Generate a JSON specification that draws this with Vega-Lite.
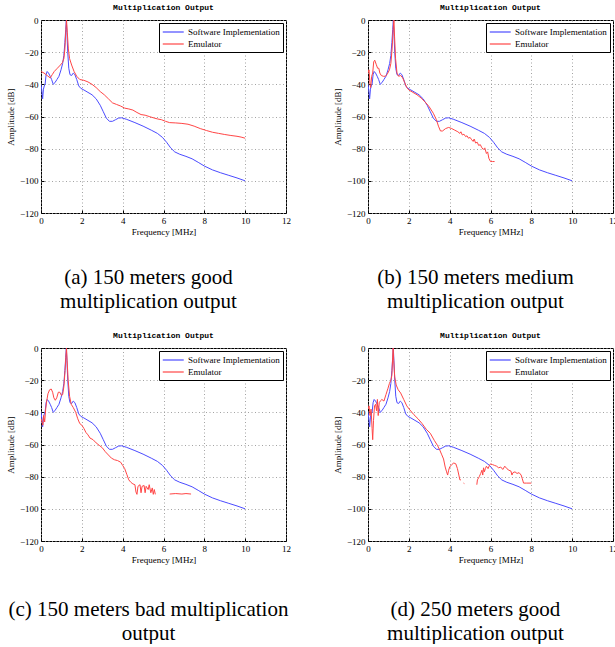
{
  "$schema": "https://vega.github.io/schema/vega-lite/v6.json",
  "padding": {"left": 5, "top": 3, "right": 0, "bottom": 0},
  "background": "white",
  "datasets": {
    "software": [
      {"series": "Software Implementation", "x": 0, "y": -40},
      {"series": "Software Implementation", "x": 0.04, "y": -44},
      {"series": "Software Implementation", "x": 0.08, "y": -49},
      {"series": "Software Implementation", "x": 0.12, "y": -43},
      {"series": "Software Implementation", "x": 0.16, "y": -41},
      {"series": "Software Implementation", "x": 0.2, "y": -40},
      {"series": "Software Implementation", "x": 0.25, "y": -34},
      {"series": "Software Implementation", "x": 0.3, "y": -32},
      {"series": "Software Implementation", "x": 0.37, "y": -33},
      {"series": "Software Implementation", "x": 0.45, "y": -35},
      {"series": "Software Implementation", "x": 0.52, "y": -37},
      {"series": "Software Implementation", "x": 0.6, "y": -40},
      {"series": "Software Implementation", "x": 0.68, "y": -39},
      {"series": "Software Implementation", "x": 0.78, "y": -37},
      {"series": "Software Implementation", "x": 0.88, "y": -35},
      {"series": "Software Implementation", "x": 0.98, "y": -31},
      {"series": "Software Implementation", "x": 1.06, "y": -27},
      {"series": "Software Implementation", "x": 1.12, "y": -22},
      {"series": "Software Implementation", "x": 1.17, "y": -14},
      {"series": "Software Implementation", "x": 1.21, "y": -6},
      {"series": "Software Implementation", "x": 1.24, "y": 0},
      {"series": "Software Implementation", "x": 1.27, "y": -8},
      {"series": "Software Implementation", "x": 1.31, "y": -20},
      {"series": "Software Implementation", "x": 1.36, "y": -30},
      {"series": "Software Implementation", "x": 1.42, "y": -34},
      {"series": "Software Implementation", "x": 1.5, "y": -34.5},
      {"series": "Software Implementation", "x": 1.58, "y": -33},
      {"series": "Software Implementation", "x": 1.66, "y": -34},
      {"series": "Software Implementation", "x": 1.75, "y": -37},
      {"series": "Software Implementation", "x": 1.85, "y": -41},
      {"series": "Software Implementation", "x": 1.95, "y": -42.5},
      {"series": "Software Implementation", "x": 2.1, "y": -43.5},
      {"series": "Software Implementation", "x": 2.3, "y": -45},
      {"series": "Software Implementation", "x": 2.5, "y": -46.5},
      {"series": "Software Implementation", "x": 2.7, "y": -49},
      {"series": "Software Implementation", "x": 2.9, "y": -53},
      {"series": "Software Implementation", "x": 3.05, "y": -57},
      {"series": "Software Implementation", "x": 3.2, "y": -61},
      {"series": "Software Implementation", "x": 3.35, "y": -63},
      {"series": "Software Implementation", "x": 3.5, "y": -63},
      {"series": "Software Implementation", "x": 3.65, "y": -62},
      {"series": "Software Implementation", "x": 3.8, "y": -61},
      {"series": "Software Implementation", "x": 3.95, "y": -60.8},
      {"series": "Software Implementation", "x": 4.2, "y": -61.8},
      {"series": "Software Implementation", "x": 4.6, "y": -63.8},
      {"series": "Software Implementation", "x": 5.0, "y": -66},
      {"series": "Software Implementation", "x": 5.4, "y": -68.5},
      {"series": "Software Implementation", "x": 5.7, "y": -70.5},
      {"series": "Software Implementation", "x": 5.95, "y": -73},
      {"series": "Software Implementation", "x": 6.15, "y": -76},
      {"series": "Software Implementation", "x": 6.35, "y": -79.5},
      {"series": "Software Implementation", "x": 6.55, "y": -82},
      {"series": "Software Implementation", "x": 6.8, "y": -83.5},
      {"series": "Software Implementation", "x": 7.1, "y": -84.8},
      {"series": "Software Implementation", "x": 7.4, "y": -86.3},
      {"series": "Software Implementation", "x": 7.7, "y": -88.5},
      {"series": "Software Implementation", "x": 8.0, "y": -90.8},
      {"series": "Software Implementation", "x": 8.4, "y": -93.2},
      {"series": "Software Implementation", "x": 8.8, "y": -95},
      {"series": "Software Implementation", "x": 9.2, "y": -96.6},
      {"series": "Software Implementation", "x": 9.6, "y": -98.2},
      {"series": "Software Implementation", "x": 10, "y": -100}
    ],
    "emulator": [
      {"panel": "a", "seg": 1, "series": "Emulator", "x": 0, "y": -32},
      {"panel": "a", "seg": 1, "series": "Emulator", "x": 0.15, "y": -33},
      {"panel": "a", "seg": 1, "series": "Emulator", "x": 0.3, "y": -34.5},
      {"panel": "a", "seg": 1, "series": "Emulator", "x": 0.45, "y": -36},
      {"panel": "a", "seg": 1, "series": "Emulator", "x": 0.55, "y": -34},
      {"panel": "a", "seg": 1, "series": "Emulator", "x": 0.65, "y": -32},
      {"panel": "a", "seg": 1, "series": "Emulator", "x": 0.8, "y": -30},
      {"panel": "a", "seg": 1, "series": "Emulator", "x": 0.95, "y": -28},
      {"panel": "a", "seg": 1, "series": "Emulator", "x": 1.05, "y": -26.5},
      {"panel": "a", "seg": 1, "series": "Emulator", "x": 1.12, "y": -24},
      {"panel": "a", "seg": 1, "series": "Emulator", "x": 1.17, "y": -18},
      {"panel": "a", "seg": 1, "series": "Emulator", "x": 1.21, "y": -8},
      {"panel": "a", "seg": 1, "series": "Emulator", "x": 1.25, "y": 0},
      {"panel": "a", "seg": 1, "series": "Emulator", "x": 1.29, "y": -8},
      {"panel": "a", "seg": 1, "series": "Emulator", "x": 1.34, "y": -18},
      {"panel": "a", "seg": 1, "series": "Emulator", "x": 1.4, "y": -24},
      {"panel": "a", "seg": 1, "series": "Emulator", "x": 1.5, "y": -28},
      {"panel": "a", "seg": 1, "series": "Emulator", "x": 1.62, "y": -32},
      {"panel": "a", "seg": 1, "series": "Emulator", "x": 1.75, "y": -35},
      {"panel": "a", "seg": 1, "series": "Emulator", "x": 1.9, "y": -37},
      {"panel": "a", "seg": 1, "series": "Emulator", "x": 2.1, "y": -37.5},
      {"panel": "a", "seg": 1, "series": "Emulator", "x": 2.3, "y": -38.5},
      {"panel": "a", "seg": 1, "series": "Emulator", "x": 2.5, "y": -40},
      {"panel": "a", "seg": 1, "series": "Emulator", "x": 2.7, "y": -42},
      {"panel": "a", "seg": 1, "series": "Emulator", "x": 2.9, "y": -44.5},
      {"panel": "a", "seg": 1, "series": "Emulator", "x": 3.1, "y": -46.5},
      {"panel": "a", "seg": 1, "series": "Emulator", "x": 3.3, "y": -49},
      {"panel": "a", "seg": 1, "series": "Emulator", "x": 3.5, "y": -51.5},
      {"panel": "a", "seg": 1, "series": "Emulator", "x": 3.7, "y": -52.5},
      {"panel": "a", "seg": 1, "series": "Emulator", "x": 3.9, "y": -53.5},
      {"panel": "a", "seg": 1, "series": "Emulator", "x": 4.1, "y": -54.8},
      {"panel": "a", "seg": 1, "series": "Emulator", "x": 4.3, "y": -55.3},
      {"panel": "a", "seg": 1, "series": "Emulator", "x": 4.5, "y": -56},
      {"panel": "a", "seg": 1, "series": "Emulator", "x": 4.7, "y": -57.5},
      {"panel": "a", "seg": 1, "series": "Emulator", "x": 4.9, "y": -58.8},
      {"panel": "a", "seg": 1, "series": "Emulator", "x": 5.1, "y": -59.2},
      {"panel": "a", "seg": 1, "series": "Emulator", "x": 5.3, "y": -60},
      {"panel": "a", "seg": 1, "series": "Emulator", "x": 5.5, "y": -60.8},
      {"panel": "a", "seg": 1, "series": "Emulator", "x": 5.7, "y": -61.5},
      {"panel": "a", "seg": 1, "series": "Emulator", "x": 5.9, "y": -62},
      {"panel": "a", "seg": 1, "series": "Emulator", "x": 6.1, "y": -63},
      {"panel": "a", "seg": 1, "series": "Emulator", "x": 6.3, "y": -63.8},
      {"panel": "a", "seg": 1, "series": "Emulator", "x": 6.6, "y": -64},
      {"panel": "a", "seg": 1, "series": "Emulator", "x": 6.9, "y": -64.3},
      {"panel": "a", "seg": 1, "series": "Emulator", "x": 7.2, "y": -64.8},
      {"panel": "a", "seg": 1, "series": "Emulator", "x": 7.5, "y": -66},
      {"panel": "a", "seg": 1, "series": "Emulator", "x": 7.8, "y": -67.5},
      {"panel": "a", "seg": 1, "series": "Emulator", "x": 8.1, "y": -68.7},
      {"panel": "a", "seg": 1, "series": "Emulator", "x": 8.4, "y": -69.8},
      {"panel": "a", "seg": 1, "series": "Emulator", "x": 8.7, "y": -70.5},
      {"panel": "a", "seg": 1, "series": "Emulator", "x": 9.0, "y": -71.2},
      {"panel": "a", "seg": 1, "series": "Emulator", "x": 9.3, "y": -71.8},
      {"panel": "a", "seg": 1, "series": "Emulator", "x": 9.6, "y": -72.3},
      {"panel": "a", "seg": 1, "series": "Emulator", "x": 9.8, "y": -72.8},
      {"panel": "a", "seg": 1, "series": "Emulator", "x": 10, "y": -73.5},

      {"panel": "b", "seg": 1, "series": "Emulator", "x": 0.0, "y": -33},
      {"panel": "b", "seg": 1, "series": "Emulator", "x": 0.05, "y": -31},
      {"panel": "b", "seg": 1, "series": "Emulator", "x": 0.1, "y": -40},
      {"panel": "b", "seg": 1, "series": "Emulator", "x": 0.13, "y": -42},
      {"panel": "b", "seg": 1, "series": "Emulator", "x": 0.18, "y": -35},
      {"panel": "b", "seg": 1, "series": "Emulator", "x": 0.23, "y": -33},
      {"panel": "b", "seg": 1, "series": "Emulator", "x": 0.28, "y": -26},
      {"panel": "b", "seg": 1, "series": "Emulator", "x": 0.33, "y": -25},
      {"panel": "b", "seg": 1, "series": "Emulator", "x": 0.4, "y": -27.5},
      {"panel": "b", "seg": 1, "series": "Emulator", "x": 0.47, "y": -30},
      {"panel": "b", "seg": 1, "series": "Emulator", "x": 0.53, "y": -30},
      {"panel": "b", "seg": 1, "series": "Emulator", "x": 0.58, "y": -33},
      {"panel": "b", "seg": 1, "series": "Emulator", "x": 0.65, "y": -34.5},
      {"panel": "b", "seg": 1, "series": "Emulator", "x": 0.75, "y": -35},
      {"panel": "b", "seg": 1, "series": "Emulator", "x": 0.85, "y": -35},
      {"panel": "b", "seg": 1, "series": "Emulator", "x": 0.95, "y": -33.5},
      {"panel": "b", "seg": 1, "series": "Emulator", "x": 1.05, "y": -31},
      {"panel": "b", "seg": 1, "series": "Emulator", "x": 1.12, "y": -27},
      {"panel": "b", "seg": 1, "series": "Emulator", "x": 1.18, "y": -18},
      {"panel": "b", "seg": 1, "series": "Emulator", "x": 1.23, "y": -6},
      {"panel": "b", "seg": 1, "series": "Emulator", "x": 1.27, "y": 0},
      {"panel": "b", "seg": 1, "series": "Emulator", "x": 1.3, "y": -10},
      {"panel": "b", "seg": 1, "series": "Emulator", "x": 1.35, "y": -24},
      {"panel": "b", "seg": 1, "series": "Emulator", "x": 1.42, "y": -33},
      {"panel": "b", "seg": 1, "series": "Emulator", "x": 1.5, "y": -35},
      {"panel": "b", "seg": 1, "series": "Emulator", "x": 1.6, "y": -34.5},
      {"panel": "b", "seg": 1, "series": "Emulator", "x": 1.7, "y": -36},
      {"panel": "b", "seg": 1, "series": "Emulator", "x": 1.8, "y": -39},
      {"panel": "b", "seg": 1, "series": "Emulator", "x": 1.9, "y": -42},
      {"panel": "b", "seg": 1, "series": "Emulator", "x": 2.0, "y": -43.5},
      {"panel": "b", "seg": 1, "series": "Emulator", "x": 2.2, "y": -45},
      {"panel": "b", "seg": 1, "series": "Emulator", "x": 2.4, "y": -46.5},
      {"panel": "b", "seg": 1, "series": "Emulator", "x": 2.6, "y": -48.5},
      {"panel": "b", "seg": 1, "series": "Emulator", "x": 2.8, "y": -51},
      {"panel": "b", "seg": 1, "series": "Emulator", "x": 3.0, "y": -54},
      {"panel": "b", "seg": 1, "series": "Emulator", "x": 3.2, "y": -58},
      {"panel": "b", "seg": 1, "series": "Emulator", "x": 3.35, "y": -62},
      {"panel": "b", "seg": 1, "series": "Emulator", "x": 3.45, "y": -66},
      {"panel": "b", "seg": 1, "series": "Emulator", "x": 3.55, "y": -69},
      {"panel": "b", "seg": 1, "series": "Emulator", "x": 3.65, "y": -69},
      {"panel": "b", "seg": 1, "series": "Emulator", "x": 3.8, "y": -67.5},
      {"panel": "b", "seg": 1, "series": "Emulator", "x": 3.95, "y": -66.8},
      {"panel": "b", "seg": 1, "series": "Emulator", "x": 4.1, "y": -67.5},
      {"panel": "b", "seg": 1, "series": "Emulator", "x": 4.25, "y": -68.5},
      {"panel": "b", "seg": 1, "series": "Emulator", "x": 4.4, "y": -69.5},
      {"panel": "b", "seg": 1, "series": "Emulator", "x": 4.5, "y": -70.5},
      {"panel": "b", "seg": 1, "series": "Emulator", "x": 4.55, "y": -69.5},
      {"panel": "b", "seg": 1, "series": "Emulator", "x": 4.62, "y": -71.5},
      {"panel": "b", "seg": 1, "series": "Emulator", "x": 4.7, "y": -71},
      {"panel": "b", "seg": 1, "series": "Emulator", "x": 4.78, "y": -72.5},
      {"panel": "b", "seg": 1, "series": "Emulator", "x": 4.85, "y": -72},
      {"panel": "b", "seg": 1, "series": "Emulator", "x": 4.92, "y": -73.5},
      {"panel": "b", "seg": 1, "series": "Emulator", "x": 5.0, "y": -73},
      {"panel": "b", "seg": 1, "series": "Emulator", "x": 5.08, "y": -74.5},
      {"panel": "b", "seg": 1, "series": "Emulator", "x": 5.15, "y": -75.5},
      {"panel": "b", "seg": 1, "series": "Emulator", "x": 5.2, "y": -74},
      {"panel": "b", "seg": 1, "series": "Emulator", "x": 5.27, "y": -76.5},
      {"panel": "b", "seg": 1, "series": "Emulator", "x": 5.35, "y": -76},
      {"panel": "b", "seg": 1, "series": "Emulator", "x": 5.42, "y": -78},
      {"panel": "b", "seg": 1, "series": "Emulator", "x": 5.5, "y": -77.5},
      {"panel": "b", "seg": 1, "series": "Emulator", "x": 5.58, "y": -79.5},
      {"panel": "b", "seg": 1, "series": "Emulator", "x": 5.65, "y": -80.5},
      {"panel": "b", "seg": 1, "series": "Emulator", "x": 5.72, "y": -79.5},
      {"panel": "b", "seg": 1, "series": "Emulator", "x": 5.8, "y": -83},
      {"panel": "b", "seg": 1, "series": "Emulator", "x": 5.86, "y": -82},
      {"panel": "b", "seg": 1, "series": "Emulator", "x": 5.92, "y": -86},
      {"panel": "b", "seg": 1, "series": "Emulator", "x": 6.0, "y": -88},
      {"panel": "b", "seg": 1, "series": "Emulator", "x": 6.1, "y": -88},
      {"panel": "b", "seg": 1, "series": "Emulator", "x": 6.2, "y": -88},

      {"panel": "c", "seg": 1, "series": "Emulator", "x": 0, "y": -44},
      {"panel": "c", "seg": 1, "series": "Emulator", "x": 0.05, "y": -46},
      {"panel": "c", "seg": 1, "series": "Emulator", "x": 0.09, "y": -48},
      {"panel": "c", "seg": 1, "series": "Emulator", "x": 0.13, "y": -42},
      {"panel": "c", "seg": 1, "series": "Emulator", "x": 0.18, "y": -46},
      {"panel": "c", "seg": 1, "series": "Emulator", "x": 0.23, "y": -38},
      {"panel": "c", "seg": 1, "series": "Emulator", "x": 0.28, "y": -33},
      {"panel": "c", "seg": 1, "series": "Emulator", "x": 0.34, "y": -28.5},
      {"panel": "c", "seg": 1, "series": "Emulator", "x": 0.42, "y": -26},
      {"panel": "c", "seg": 1, "series": "Emulator", "x": 0.5, "y": -25.5},
      {"panel": "c", "seg": 1, "series": "Emulator", "x": 0.57, "y": -27.5},
      {"panel": "c", "seg": 1, "series": "Emulator", "x": 0.63, "y": -31},
      {"panel": "c", "seg": 1, "series": "Emulator", "x": 0.7, "y": -32.5},
      {"panel": "c", "seg": 1, "series": "Emulator", "x": 0.77, "y": -31},
      {"panel": "c", "seg": 1, "series": "Emulator", "x": 0.85, "y": -27.5},
      {"panel": "c", "seg": 1, "series": "Emulator", "x": 0.92, "y": -27.5},
      {"panel": "c", "seg": 1, "series": "Emulator", "x": 1.0, "y": -29.5},
      {"panel": "c", "seg": 1, "series": "Emulator", "x": 1.06, "y": -29},
      {"panel": "c", "seg": 1, "series": "Emulator", "x": 1.12, "y": -24},
      {"panel": "c", "seg": 1, "series": "Emulator", "x": 1.18, "y": -14},
      {"panel": "c", "seg": 1, "series": "Emulator", "x": 1.22, "y": -5},
      {"panel": "c", "seg": 1, "series": "Emulator", "x": 1.25, "y": 0},
      {"panel": "c", "seg": 1, "series": "Emulator", "x": 1.28, "y": -8},
      {"panel": "c", "seg": 1, "series": "Emulator", "x": 1.33, "y": -20},
      {"panel": "c", "seg": 1, "series": "Emulator", "x": 1.4, "y": -30},
      {"panel": "c", "seg": 1, "series": "Emulator", "x": 1.48, "y": -35},
      {"panel": "c", "seg": 1, "series": "Emulator", "x": 1.58, "y": -37},
      {"panel": "c", "seg": 1, "series": "Emulator", "x": 1.7, "y": -40},
      {"panel": "c", "seg": 1, "series": "Emulator", "x": 1.8, "y": -44},
      {"panel": "c", "seg": 1, "series": "Emulator", "x": 1.9, "y": -47},
      {"panel": "c", "seg": 1, "series": "Emulator", "x": 2.0, "y": -48},
      {"panel": "c", "seg": 1, "series": "Emulator", "x": 2.1, "y": -50},
      {"panel": "c", "seg": 1, "series": "Emulator", "x": 2.2, "y": -52.5},
      {"panel": "c", "seg": 1, "series": "Emulator", "x": 2.3, "y": -54},
      {"panel": "c", "seg": 1, "series": "Emulator", "x": 2.4, "y": -56},
      {"panel": "c", "seg": 1, "series": "Emulator", "x": 2.55, "y": -57},
      {"panel": "c", "seg": 1, "series": "Emulator", "x": 2.7, "y": -59},
      {"panel": "c", "seg": 1, "series": "Emulator", "x": 2.85, "y": -60.5},
      {"panel": "c", "seg": 1, "series": "Emulator", "x": 3.0, "y": -62},
      {"panel": "c", "seg": 1, "series": "Emulator", "x": 3.15, "y": -64.5},
      {"panel": "c", "seg": 1, "series": "Emulator", "x": 3.3, "y": -66.5},
      {"panel": "c", "seg": 1, "series": "Emulator", "x": 3.45, "y": -68.5},
      {"panel": "c", "seg": 1, "series": "Emulator", "x": 3.6, "y": -69.5},
      {"panel": "c", "seg": 1, "series": "Emulator", "x": 3.75, "y": -70},
      {"panel": "c", "seg": 1, "series": "Emulator", "x": 3.9, "y": -71},
      {"panel": "c", "seg": 1, "series": "Emulator", "x": 4.0, "y": -73},
      {"panel": "c", "seg": 1, "series": "Emulator", "x": 4.1, "y": -75},
      {"panel": "c", "seg": 1, "series": "Emulator", "x": 4.2, "y": -78.5},
      {"panel": "c", "seg": 1, "series": "Emulator", "x": 4.3, "y": -82},
      {"panel": "c", "seg": 1, "series": "Emulator", "x": 4.4, "y": -83.5},
      {"panel": "c", "seg": 1, "series": "Emulator", "x": 4.5, "y": -84.5},
      {"panel": "c", "seg": 1, "series": "Emulator", "x": 4.6, "y": -85},
      {"panel": "c", "seg": 1, "series": "Emulator", "x": 4.65, "y": -89.5},
      {"panel": "c", "seg": 1, "series": "Emulator", "x": 4.7, "y": -91},
      {"panel": "c", "seg": 1, "series": "Emulator", "x": 4.75, "y": -86},
      {"panel": "c", "seg": 1, "series": "Emulator", "x": 4.85, "y": -85},
      {"panel": "c", "seg": 1, "series": "Emulator", "x": 4.9, "y": -90},
      {"panel": "c", "seg": 1, "series": "Emulator", "x": 4.95, "y": -86},
      {"panel": "c", "seg": 1, "series": "Emulator", "x": 5.05, "y": -85.5},
      {"panel": "c", "seg": 1, "series": "Emulator", "x": 5.1, "y": -90},
      {"panel": "c", "seg": 1, "series": "Emulator", "x": 5.15, "y": -86},
      {"panel": "c", "seg": 1, "series": "Emulator", "x": 5.25, "y": -88},
      {"panel": "c", "seg": 1, "series": "Emulator", "x": 5.3, "y": -85},
      {"panel": "c", "seg": 1, "series": "Emulator", "x": 5.38, "y": -90},
      {"panel": "c", "seg": 1, "series": "Emulator", "x": 5.45, "y": -87},
      {"panel": "c", "seg": 1, "series": "Emulator", "x": 5.5, "y": -91},
      {"panel": "c", "seg": 1, "series": "Emulator", "x": 5.55, "y": -88},
      {"panel": "c", "seg": 1, "series": "Emulator", "x": 5.6, "y": -91},
      {"panel": "c", "seg": 2, "series": "Emulator", "x": 6.3, "y": -90.8},
      {"panel": "c", "seg": 2, "series": "Emulator", "x": 6.6, "y": -90.5},
      {"panel": "c", "seg": 2, "series": "Emulator", "x": 6.9, "y": -90.8},
      {"panel": "c", "seg": 2, "series": "Emulator", "x": 7.1, "y": -90.5},
      {"panel": "c", "seg": 2, "series": "Emulator", "x": 7.35, "y": -90.8},

      {"panel": "d", "seg": 1, "series": "Emulator", "x": 0, "y": -38},
      {"panel": "d", "seg": 1, "series": "Emulator", "x": 0.05, "y": -36},
      {"panel": "d", "seg": 1, "series": "Emulator", "x": 0.1, "y": -42},
      {"panel": "d", "seg": 1, "series": "Emulator", "x": 0.15, "y": -38},
      {"panel": "d", "seg": 1, "series": "Emulator", "x": 0.2, "y": -50},
      {"panel": "d", "seg": 1, "series": "Emulator", "x": 0.23, "y": -57},
      {"panel": "d", "seg": 1, "series": "Emulator", "x": 0.27, "y": -45},
      {"panel": "d", "seg": 1, "series": "Emulator", "x": 0.32, "y": -36},
      {"panel": "d", "seg": 1, "series": "Emulator", "x": 0.37, "y": -35},
      {"panel": "d", "seg": 1, "series": "Emulator", "x": 0.42, "y": -39},
      {"panel": "d", "seg": 1, "series": "Emulator", "x": 0.46, "y": -32},
      {"panel": "d", "seg": 1, "series": "Emulator", "x": 0.5, "y": -42},
      {"panel": "d", "seg": 1, "series": "Emulator", "x": 0.55, "y": -34},
      {"panel": "d", "seg": 1, "series": "Emulator", "x": 0.6, "y": -33},
      {"panel": "d", "seg": 1, "series": "Emulator", "x": 0.68, "y": -32},
      {"panel": "d", "seg": 1, "series": "Emulator", "x": 0.78, "y": -33},
      {"panel": "d", "seg": 1, "series": "Emulator", "x": 0.88, "y": -29},
      {"panel": "d", "seg": 1, "series": "Emulator", "x": 0.98, "y": -25},
      {"panel": "d", "seg": 1, "series": "Emulator", "x": 1.05, "y": -22},
      {"panel": "d", "seg": 1, "series": "Emulator", "x": 1.12, "y": -20},
      {"panel": "d", "seg": 1, "series": "Emulator", "x": 1.17, "y": -17},
      {"panel": "d", "seg": 1, "series": "Emulator", "x": 1.2, "y": -8},
      {"panel": "d", "seg": 1, "series": "Emulator", "x": 1.23, "y": 0},
      {"panel": "d", "seg": 1, "series": "Emulator", "x": 1.26, "y": -8},
      {"panel": "d", "seg": 1, "series": "Emulator", "x": 1.31, "y": -18},
      {"panel": "d", "seg": 1, "series": "Emulator", "x": 1.38, "y": -23},
      {"panel": "d", "seg": 1, "series": "Emulator", "x": 1.48, "y": -26},
      {"panel": "d", "seg": 1, "series": "Emulator", "x": 1.6, "y": -28},
      {"panel": "d", "seg": 1, "series": "Emulator", "x": 1.75, "y": -32},
      {"panel": "d", "seg": 1, "series": "Emulator", "x": 1.9, "y": -36},
      {"panel": "d", "seg": 1, "series": "Emulator", "x": 2.05, "y": -38.5},
      {"panel": "d", "seg": 1, "series": "Emulator", "x": 2.25, "y": -41.5},
      {"panel": "d", "seg": 1, "series": "Emulator", "x": 2.45, "y": -44},
      {"panel": "d", "seg": 1, "series": "Emulator", "x": 2.65, "y": -47},
      {"panel": "d", "seg": 1, "series": "Emulator", "x": 2.85, "y": -50.5},
      {"panel": "d", "seg": 1, "series": "Emulator", "x": 3.05, "y": -53},
      {"panel": "d", "seg": 1, "series": "Emulator", "x": 3.25, "y": -57.5},
      {"panel": "d", "seg": 1, "series": "Emulator", "x": 3.4, "y": -60.5},
      {"panel": "d", "seg": 1, "series": "Emulator", "x": 3.5, "y": -63},
      {"panel": "d", "seg": 1, "series": "Emulator", "x": 3.6, "y": -66},
      {"panel": "d", "seg": 1, "series": "Emulator", "x": 3.7, "y": -69},
      {"panel": "d", "seg": 1, "series": "Emulator", "x": 3.78, "y": -74},
      {"panel": "d", "seg": 1, "series": "Emulator", "x": 3.85, "y": -77},
      {"panel": "d", "seg": 1, "series": "Emulator", "x": 3.9, "y": -79},
      {"panel": "d", "seg": 1, "series": "Emulator", "x": 3.95, "y": -76},
      {"panel": "d", "seg": 1, "series": "Emulator", "x": 4.0, "y": -74},
      {"panel": "d", "seg": 1, "series": "Emulator", "x": 4.1, "y": -72.5},
      {"panel": "d", "seg": 1, "series": "Emulator", "x": 4.2, "y": -71.5},
      {"panel": "d", "seg": 1, "series": "Emulator", "x": 4.3, "y": -72},
      {"panel": "d", "seg": 1, "series": "Emulator", "x": 4.38, "y": -75},
      {"panel": "d", "seg": 1, "series": "Emulator", "x": 4.45, "y": -79},
      {"panel": "d", "seg": 1, "series": "Emulator", "x": 4.5, "y": -82},
      {"panel": "d", "seg": 1, "series": "Emulator", "x": 4.55, "y": -82},
      {"panel": "d", "seg": 2, "series": "Emulator", "x": 4.68, "y": -84},
      {"panel": "d", "seg": 2, "series": "Emulator", "x": 4.72, "y": -84.3},
      {"panel": "d", "seg": 3, "series": "Emulator", "x": 5.33, "y": -85},
      {"panel": "d", "seg": 3, "series": "Emulator", "x": 5.36, "y": -82},
      {"panel": "d", "seg": 3, "series": "Emulator", "x": 5.45, "y": -80},
      {"panel": "d", "seg": 3, "series": "Emulator", "x": 5.52, "y": -78},
      {"panel": "d", "seg": 3, "series": "Emulator", "x": 5.58, "y": -76},
      {"panel": "d", "seg": 3, "series": "Emulator", "x": 5.62, "y": -79},
      {"panel": "d", "seg": 3, "series": "Emulator", "x": 5.66, "y": -74.5},
      {"panel": "d", "seg": 3, "series": "Emulator", "x": 5.7, "y": -77},
      {"panel": "d", "seg": 3, "series": "Emulator", "x": 5.75, "y": -75},
      {"panel": "d", "seg": 3, "series": "Emulator", "x": 5.8, "y": -73.5},
      {"panel": "d", "seg": 3, "series": "Emulator", "x": 5.88, "y": -75},
      {"panel": "d", "seg": 3, "series": "Emulator", "x": 5.95, "y": -73},
      {"panel": "d", "seg": 3, "series": "Emulator", "x": 6.0, "y": -72},
      {"panel": "d", "seg": 3, "series": "Emulator", "x": 6.1, "y": -72.5},
      {"panel": "d", "seg": 3, "series": "Emulator", "x": 6.2, "y": -73},
      {"panel": "d", "seg": 3, "series": "Emulator", "x": 6.3, "y": -73.5},
      {"panel": "d", "seg": 3, "series": "Emulator", "x": 6.4, "y": -74.5},
      {"panel": "d", "seg": 3, "series": "Emulator", "x": 6.5, "y": -74},
      {"panel": "d", "seg": 3, "series": "Emulator", "x": 6.6, "y": -75.5},
      {"panel": "d", "seg": 3, "series": "Emulator", "x": 6.7, "y": -73.5},
      {"panel": "d", "seg": 3, "series": "Emulator", "x": 6.8, "y": -75},
      {"panel": "d", "seg": 3, "series": "Emulator", "x": 6.9, "y": -76},
      {"panel": "d", "seg": 3, "series": "Emulator", "x": 7.0, "y": -76.5},
      {"panel": "d", "seg": 3, "series": "Emulator", "x": 7.05, "y": -79},
      {"panel": "d", "seg": 3, "series": "Emulator", "x": 7.1, "y": -77.5},
      {"panel": "d", "seg": 3, "series": "Emulator", "x": 7.2, "y": -77},
      {"panel": "d", "seg": 3, "series": "Emulator", "x": 7.3, "y": -78},
      {"panel": "d", "seg": 3, "series": "Emulator", "x": 7.4, "y": -77.5},
      {"panel": "d", "seg": 3, "series": "Emulator", "x": 7.5, "y": -79},
      {"panel": "d", "seg": 3, "series": "Emulator", "x": 7.55, "y": -81},
      {"panel": "d", "seg": 3, "series": "Emulator", "x": 7.62, "y": -84},
      {"panel": "d", "seg": 3, "series": "Emulator", "x": 7.75, "y": -84},
      {"panel": "d", "seg": 3, "series": "Emulator", "x": 8.0, "y": -84}
    ]
  },
  "columns": 2,
  "spacing": {"column": 41, "row": 19},
  "resolve": {"scale": {"color": "independent", "x": "independent", "y": "independent"}, "legend": {"color": "independent"}},
  "concat": [
    {
      "title": {"text": ["(a) 150 meters good", "multiplication output"], "orient": "bottom", "font": "Liberation Serif", "fontSize": 21, "fontWeight": "normal", "lineHeight": 24, "offset": 30, "frame": "bounds", "anchor": "middle"},
      "resolve": {"scale": {"color": "independent"}, "legend": {"color": "independent"}},
      "vconcat": [
        {
          "width": 245, "height": 193,
          "title": "Multiplication Output",
          "encoding": {
            "x": {"field": "x", "type": "quantitative", "scale": {"domain": [0, 12], "nice": false}, "axis": {"title": "Frequency [MHz]", "values": [0, 2, 4, 6, 8, 10, 12]}},
            "y": {"field": "y", "type": "quantitative", "scale": {"domain": [-120, 0], "nice": false}, "axis": {"title": "Amplitude [dB]", "values": [-120, -100, -80, -60, -40, -20, 0]}},
            "color": {"field": "series", "type": "nominal", "scale": {"domain": ["Software Implementation", "Emulator"], "range": ["#4b4bff", "#ff4545"]}, "legend": {"title": null}}
          },
          "layer": [
            {"data": {"name": "software"}, "mark": {"type": "line", "strokeWidth": 1, "clip": true}},
            {"data": {"name": "emulator"}, "transform": [{"filter": "datum.panel === 'a'"}], "mark": {"type": "line", "strokeWidth": 1, "clip": true}, "encoding": {"detail": {"field": "seg", "type": "nominal"}}}
          ]
        }
      ]
    },
    {
      "title": {"text": ["(b) 150 meters medium", "multiplication output"], "orient": "bottom", "font": "Liberation Serif", "fontSize": 21, "fontWeight": "normal", "lineHeight": 24, "offset": 30, "frame": "bounds", "anchor": "middle"},
      "resolve": {"scale": {"color": "independent"}, "legend": {"color": "independent"}},
      "vconcat": [
        {
          "width": 245, "height": 193,
          "title": "Multiplication Output",
          "encoding": {
            "x": {"field": "x", "type": "quantitative", "scale": {"domain": [0, 12], "nice": false}, "axis": {"title": "Frequency [MHz]", "values": [0, 2, 4, 6, 8, 10, 12]}},
            "y": {"field": "y", "type": "quantitative", "scale": {"domain": [-120, 0], "nice": false}, "axis": {"title": "Amplitude [dB]", "values": [-120, -100, -80, -60, -40, -20, 0]}},
            "color": {"field": "series", "type": "nominal", "scale": {"domain": ["Software Implementation", "Emulator"], "range": ["#4b4bff", "#ff4545"]}, "legend": {"title": null}}
          },
          "layer": [
            {"data": {"name": "software"}, "mark": {"type": "line", "strokeWidth": 1, "clip": true}},
            {"data": {"name": "emulator"}, "transform": [{"filter": "datum.panel === 'b'"}], "mark": {"type": "line", "strokeWidth": 1, "clip": true}, "encoding": {"detail": {"field": "seg", "type": "nominal"}}}
          ]
        }
      ]
    },
    {
      "title": {"text": ["(c) 150 meters bad multiplication", "output"], "orient": "bottom", "font": "Liberation Serif", "fontSize": 21, "fontWeight": "normal", "lineHeight": 24, "offset": 34, "frame": "bounds", "anchor": "middle"},
      "resolve": {"scale": {"color": "independent"}, "legend": {"color": "independent"}},
      "vconcat": [
        {
          "width": 245, "height": 193,
          "title": "Multiplication Output",
          "encoding": {
            "x": {"field": "x", "type": "quantitative", "scale": {"domain": [0, 12], "nice": false}, "axis": {"title": "Frequency [MHz]", "values": [0, 2, 4, 6, 8, 10, 12]}},
            "y": {"field": "y", "type": "quantitative", "scale": {"domain": [-120, 0], "nice": false}, "axis": {"title": "Amplitude [dB]", "values": [-120, -100, -80, -60, -40, -20, 0]}},
            "color": {"field": "series", "type": "nominal", "scale": {"domain": ["Software Implementation", "Emulator"], "range": ["#4b4bff", "#ff4545"]}, "legend": {"title": null}}
          },
          "layer": [
            {"data": {"name": "software"}, "mark": {"type": "line", "strokeWidth": 1, "clip": true}},
            {"data": {"name": "emulator"}, "transform": [{"filter": "datum.panel === 'c'"}], "mark": {"type": "line", "strokeWidth": 1, "clip": true}, "encoding": {"detail": {"field": "seg", "type": "nominal"}}}
          ]
        }
      ]
    },
    {
      "title": {"text": ["(d) 250 meters good", "multiplication output"], "orient": "bottom", "font": "Liberation Serif", "fontSize": 21, "fontWeight": "normal", "lineHeight": 24, "offset": 34, "frame": "bounds", "anchor": "middle"},
      "resolve": {"scale": {"color": "independent"}, "legend": {"color": "independent"}},
      "vconcat": [
        {
          "width": 245, "height": 193,
          "title": "Multiplication Output",
          "encoding": {
            "x": {"field": "x", "type": "quantitative", "scale": {"domain": [0, 12], "nice": false}, "axis": {"title": "Frequency [MHz]", "values": [0, 2, 4, 6, 8, 10, 12]}},
            "y": {"field": "y", "type": "quantitative", "scale": {"domain": [-120, 0], "nice": false}, "axis": {"title": "Amplitude [dB]", "values": [-120, -100, -80, -60, -40, -20, 0]}},
            "color": {"field": "series", "type": "nominal", "scale": {"domain": ["Software Implementation", "Emulator"], "range": ["#4b4bff", "#ff4545"]}, "legend": {"title": null}}
          },
          "layer": [
            {"data": {"name": "software"}, "mark": {"type": "line", "strokeWidth": 1, "clip": true}},
            {"data": {"name": "emulator"}, "transform": [{"filter": "datum.panel === 'd'"}], "mark": {"type": "line", "strokeWidth": 1, "clip": true}, "encoding": {"detail": {"field": "seg", "type": "nominal"}}}
          ]
        }
      ]
    }
  ],
  "config": {
    "view": {"stroke": "black", "strokeWidth": 1},
    "axis": {
      "labelFont": "Liberation Serif", "labelFontSize": 9, "labelColor": "black", "labelPadding": 6,
      "titleFont": "Liberation Serif", "titleFontSize": 9, "titleFontWeight": "normal", "titleColor": "black",
      "grid": true, "gridColor": "#999999", "gridDash": [1, 2.5], "gridOpacity": 0.9,
      "domain": false, "ticks": true, "tickColor": "black", "tickSize": -3
    },
    "axisX": {"titlePadding": 2, "labelFlush": false},
    "axisY": {"titlePadding": 4},
    "legend": {
      "orient": "top-right", "offset": 3, "strokeColor": "black", "fillColor": "white",
      "padding": 3, "labelFont": "Liberation Serif", "labelFontSize": 9, "labelColor": "black",
      "symbolType": "M-1,0H3", "symbolSize": 110, "symbolStrokeWidth": 1.2, "labelOffset": 14, "rowPadding": 1, "labelLimit": 0, "cornerRadius": 0
    },
    "title": {"font": "Liberation Mono", "fontSize": 8, "fontWeight": "bold", "color": "black", "offset": 4, "anchor": "middle", "frame": "group"}
  }
}
